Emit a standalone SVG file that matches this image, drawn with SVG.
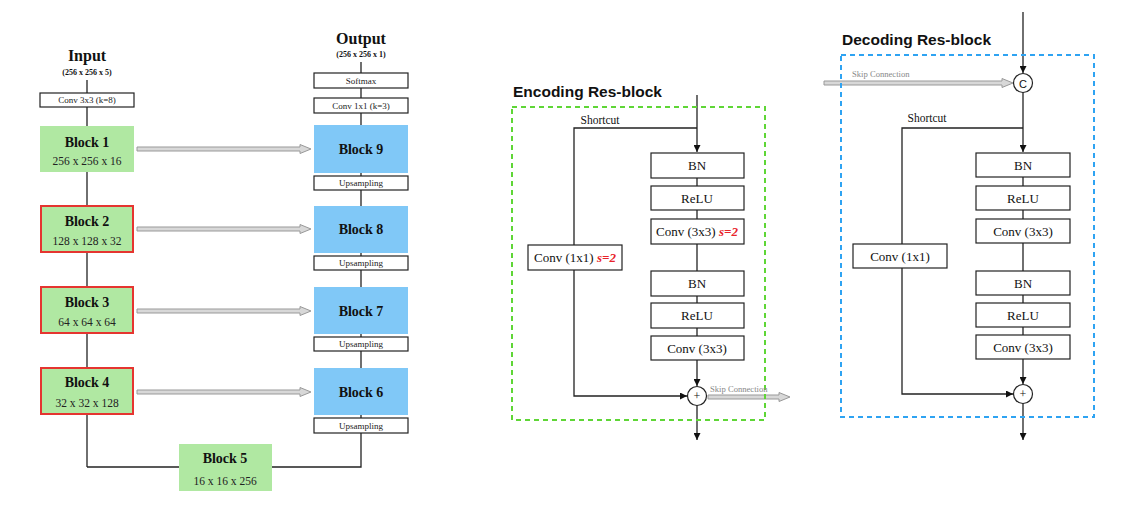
<svg xmlns="http://www.w3.org/2000/svg" width="1148" height="526" viewBox="0 0 1148 526">
<defs>
<marker id="ah" viewBox="0 0 10 10" refX="10" refY="5" markerWidth="7" markerHeight="7" markerUnits="userSpaceOnUse" orient="auto"><path d="M0,0 L10,5 L0,10 z" fill="#111"/></marker>
</defs>
<style>
.ln{stroke:#222;stroke-width:1.3;fill:none}
.box{fill:#fff;stroke:#222;stroke-width:1.2}
.g{fill:#b0e8a2}
.gr{fill:#b0e8a2;stroke:#e53530;stroke-width:2}
.b{fill:#80c8f7}
.t{font-family:"Liberation Serif",serif;fill:#111;text-anchor:middle}
.bt{font-family:"Liberation Serif",serif;font-weight:bold;font-size:14px;fill:#111;text-anchor:middle}
.st{font-family:"Liberation Serif",serif;font-size:9px;fill:#222;text-anchor:middle}
.dt{font-family:"Liberation Serif",serif;font-size:11.5px;fill:#222;text-anchor:middle}
.rt{font-family:"Liberation Serif",serif;font-size:13px;fill:#111;text-anchor:middle}
.red{fill:#e8242a;font-style:italic;font-weight:bold}
.ttl{font-family:"Liberation Sans",Arial,sans-serif;font-weight:bold;font-size:15.5px;fill:#111}
.sk{fill:#d8d8d8;stroke:#999;stroke-width:1}
.skt{font-family:"Liberation Serif",serif;font-size:8.6px;fill:#888}
</style>
<rect width="1148" height="526" fill="#fff"/>
<g id="connectors">
<line class="ln" x1="87" y1="80" x2="87" y2="467"/>
<polyline class="ln" points="87,467 179,467"/>
<polyline class="ln" points="272,467 361,467 361,433"/>
<line class="ln" x1="361" y1="62" x2="361" y2="418"/>
<path class="sk" d="M137,147 L300,147 L300,144.5 L311,149 L300,153.5 L300,151 L137,151 z"/>
<path class="sk" d="M137,227 L300,227 L300,224.5 L311,229 L300,233.5 L300,231 L137,231 z"/>
<path class="sk" d="M137,309 L300,309 L300,306.5 L311,311 L300,315.5 L300,313 L137,313 z"/>
<path class="sk" d="M137,390 L300,390 L300,387.5 L311,392 L300,396.5 L300,394 L137,394 z"/>
<line class="ln" x1="697" y1="95" x2="697" y2="152" marker-end="url(#ah)"/>
<polyline class="ln" points="697,128 574,128 574,396 687,396" marker-end="url(#ah)"/>
<line class="ln" x1="697" y1="178" x2="697" y2="186"/>
<line class="ln" x1="697" y1="210" x2="697" y2="219"/>
<line class="ln" x1="697" y1="244" x2="697" y2="271"/>
<line class="ln" x1="697" y1="296" x2="697" y2="303"/>
<line class="ln" x1="697" y1="328" x2="697" y2="336"/>
<line class="ln" x1="697" y1="360" x2="697" y2="386" marker-end="url(#ah)"/>
<line class="ln" x1="697" y1="405" x2="697" y2="440" marker-end="url(#ah)"/>
<path class="sk" d="M708,395 L779,395 L779,392.5 L790,397 L779,401.5 L779,399 L708,399 z"/>
<line class="ln" x1="1023" y1="12" x2="1023" y2="73" marker-end="url(#ah)"/>
<path class="sk" d="M824,81 L1002,81 L1002,78.5 L1013,83 L1002,87.5 L1002,85 L824,85 z"/>
<line class="ln" x1="1023" y1="92" x2="1023" y2="152" marker-end="url(#ah)"/>
<polyline class="ln" points="1023,128 902,128 902,394 1013,394" marker-end="url(#ah)"/>
<line class="ln" x1="1023" y1="177" x2="1023" y2="186"/>
<line class="ln" x1="1023" y1="210" x2="1023" y2="219"/>
<line class="ln" x1="1023" y1="243" x2="1023" y2="271"/>
<line class="ln" x1="1023" y1="295" x2="1023" y2="303"/>
<line class="ln" x1="1023" y1="327" x2="1023" y2="335"/>
<line class="ln" x1="1023" y1="359" x2="1023" y2="384" marker-end="url(#ah)"/>
<line class="ln" x1="1023" y1="403" x2="1023" y2="440" marker-end="url(#ah)"/>
</g>
<g id="input"><text class="t" x="87" y="61" font-size="16" font-weight="bold">Input</text><text class="t" x="87" y="75" font-size="8" font-weight="bold">(256 x 256 x 5)</text></g>
<g id="conv3x3"><rect class="box" x="40" y="93" width="94" height="14"/><text class="st" x="87" y="103">Conv 3x3 (k=8)</text></g>
<g id="block1"><rect class="g" x="40" y="126" width="94" height="46"/><text class="bt" x="87" y="147">Block 1</text><text class="dt" x="87" y="165">256 x 256 x 16</text></g>
<g id="block2"><rect class="gr" x="41" y="206" width="92" height="46"/><text class="bt" x="87" y="226">Block 2</text><text class="dt" x="87" y="245">128 x 128 x 32</text></g>
<g id="block3"><rect class="gr" x="41" y="287" width="92" height="46"/><text class="bt" x="87" y="307">Block 3</text><text class="dt" x="87" y="326">64 x 64 x 64</text></g>
<g id="block4"><rect class="gr" x="41" y="368" width="92" height="46"/><text class="bt" x="87" y="387">Block 4</text><text class="dt" x="87" y="407">32 x 32 x 128</text></g>
<g id="block5"><rect class="g" x="179" y="444" width="93" height="47"/><text class="bt" x="225" y="463">Block 5</text><text class="dt" x="225" y="485">16 x 16 x 256</text></g>
<g id="output"><text class="t" x="361" y="44" font-size="16" font-weight="bold">Output</text><text class="t" x="361" y="57" font-size="8" font-weight="bold">(256 x 256 x 1)</text></g>
<g id="softmax"><rect class="box" x="314" y="73" width="94" height="15"/><text class="st" x="361" y="84">Softmax</text></g>
<g id="conv1x1"><rect class="box" x="314" y="98" width="94" height="15"/><text class="st" x="361" y="109">Conv 1x1 (k=3)</text></g>
<g id="block9"><rect class="b" x="314" y="125" width="94" height="48"/><text class="bt" x="361" y="154">Block 9</text></g>
<g id="up9"><rect class="box" x="314" y="176" width="94" height="14"/><text class="st" x="361" y="186">Upsampling</text></g>
<g id="block8"><rect class="b" x="314" y="206" width="94" height="47"/><text class="bt" x="361" y="234">Block 8</text></g>
<g id="up8"><rect class="box" x="314" y="256" width="94" height="14"/><text class="st" x="361" y="266">Upsampling</text></g>
<g id="block7"><rect class="b" x="314" y="287" width="94" height="47"/><text class="bt" x="361" y="316">Block 7</text></g>
<g id="up7"><rect class="box" x="314" y="337" width="94" height="14"/><text class="st" x="361" y="347">Upsampling</text></g>
<g id="block6"><rect class="b" x="314" y="368" width="94" height="47"/><text class="bt" x="361" y="397">Block 6</text></g>
<g id="up6"><rect class="box" x="314" y="418" width="94" height="15"/><text class="st" x="361" y="429">Upsampling</text></g>
<g id="encoding">
<text class="ttl" x="513" y="97">Encoding Res-block</text>
<rect x="512" y="107" width="253" height="313" fill="none" stroke="#5fd636" stroke-width="2" stroke-dasharray="5,4"/>
<text class="t" x="600" y="124" font-size="11.5">Shortcut</text>
<text class="skt" x="710" y="392">Skip Connection</text>
</g>
<g id="enc-bn1"><rect class="box" x="651" y="153" width="93" height="25"/><text class="rt" x="697" y="170">BN</text></g>
<g id="enc-relu1"><rect class="box" x="651" y="186" width="93" height="24"/><text class="rt" x="697" y="203">ReLU</text></g>
<g id="enc-conv1"><rect class="box" x="651" y="219" width="93" height="25"/><text class="rt" x="697" y="236">Conv (3x3) <tspan class="red">s=2</tspan></text></g>
<g id="enc-bn2"><rect class="box" x="651" y="271" width="93" height="25"/><text class="rt" x="697" y="288">BN</text></g>
<g id="enc-relu2"><rect class="box" x="651" y="303" width="93" height="25"/><text class="rt" x="697" y="320">ReLU</text></g>
<g id="enc-conv2"><rect class="box" x="651" y="336" width="93" height="24"/><text class="rt" x="697" y="353">Conv (3x3)</text></g>
<g id="enc-short"><rect class="box" x="528" y="245" width="94" height="25"/><text class="rt" x="575" y="262">Conv (1x1) <tspan class="red">s=2</tspan></text></g>
<g id="enc-add"><circle cx="697" cy="396" r="9.5" fill="#fff" stroke="#222" stroke-width="1.2"/><text class="t" x="697" y="400" font-size="12">+</text></g>
<g id="decoding">
<text class="ttl" x="842" y="45">Decoding Res-block</text>
<rect x="841" y="55" width="253" height="362" fill="none" stroke="#2ea3f2" stroke-width="2" stroke-dasharray="5,4"/>
<text class="t" x="927" y="122" font-size="11.5">Shortcut</text>
<text class="skt" x="852" y="77">Skip Connection</text>
</g>
<g id="dec-concat"><circle cx="1023" cy="83" r="9.5" fill="#fff" stroke="#222" stroke-width="1.2"/><text x="1023" y="87.5" font-family="Liberation Sans,Arial,sans-serif" font-size="11" text-anchor="middle" fill="#111">C</text></g>
<g id="dec-bn1"><rect class="box" x="976" y="153" width="94" height="24"/><text class="rt" x="1023" y="170">BN</text></g>
<g id="dec-relu1"><rect class="box" x="976" y="186" width="94" height="24"/><text class="rt" x="1023" y="203">ReLU</text></g>
<g id="dec-conv1"><rect class="box" x="976" y="219" width="94" height="24"/><text class="rt" x="1023" y="236">Conv (3x3)</text></g>
<g id="dec-bn2"><rect class="box" x="976" y="271" width="94" height="24"/><text class="rt" x="1023" y="288">BN</text></g>
<g id="dec-relu2"><rect class="box" x="976" y="303" width="94" height="24"/><text class="rt" x="1023" y="320">ReLU</text></g>
<g id="dec-conv2"><rect class="box" x="976" y="335" width="94" height="24"/><text class="rt" x="1023" y="352">Conv (3x3)</text></g>
<g id="dec-short"><rect class="box" x="853" y="244" width="94" height="24"/><text class="rt" x="900" y="261">Conv (1x1)</text></g>
<g id="dec-add"><circle cx="1023" cy="394" r="9.5" fill="#fff" stroke="#222" stroke-width="1.2"/><text class="t" x="1023" y="398" font-size="12">+</text></g>
</svg>
